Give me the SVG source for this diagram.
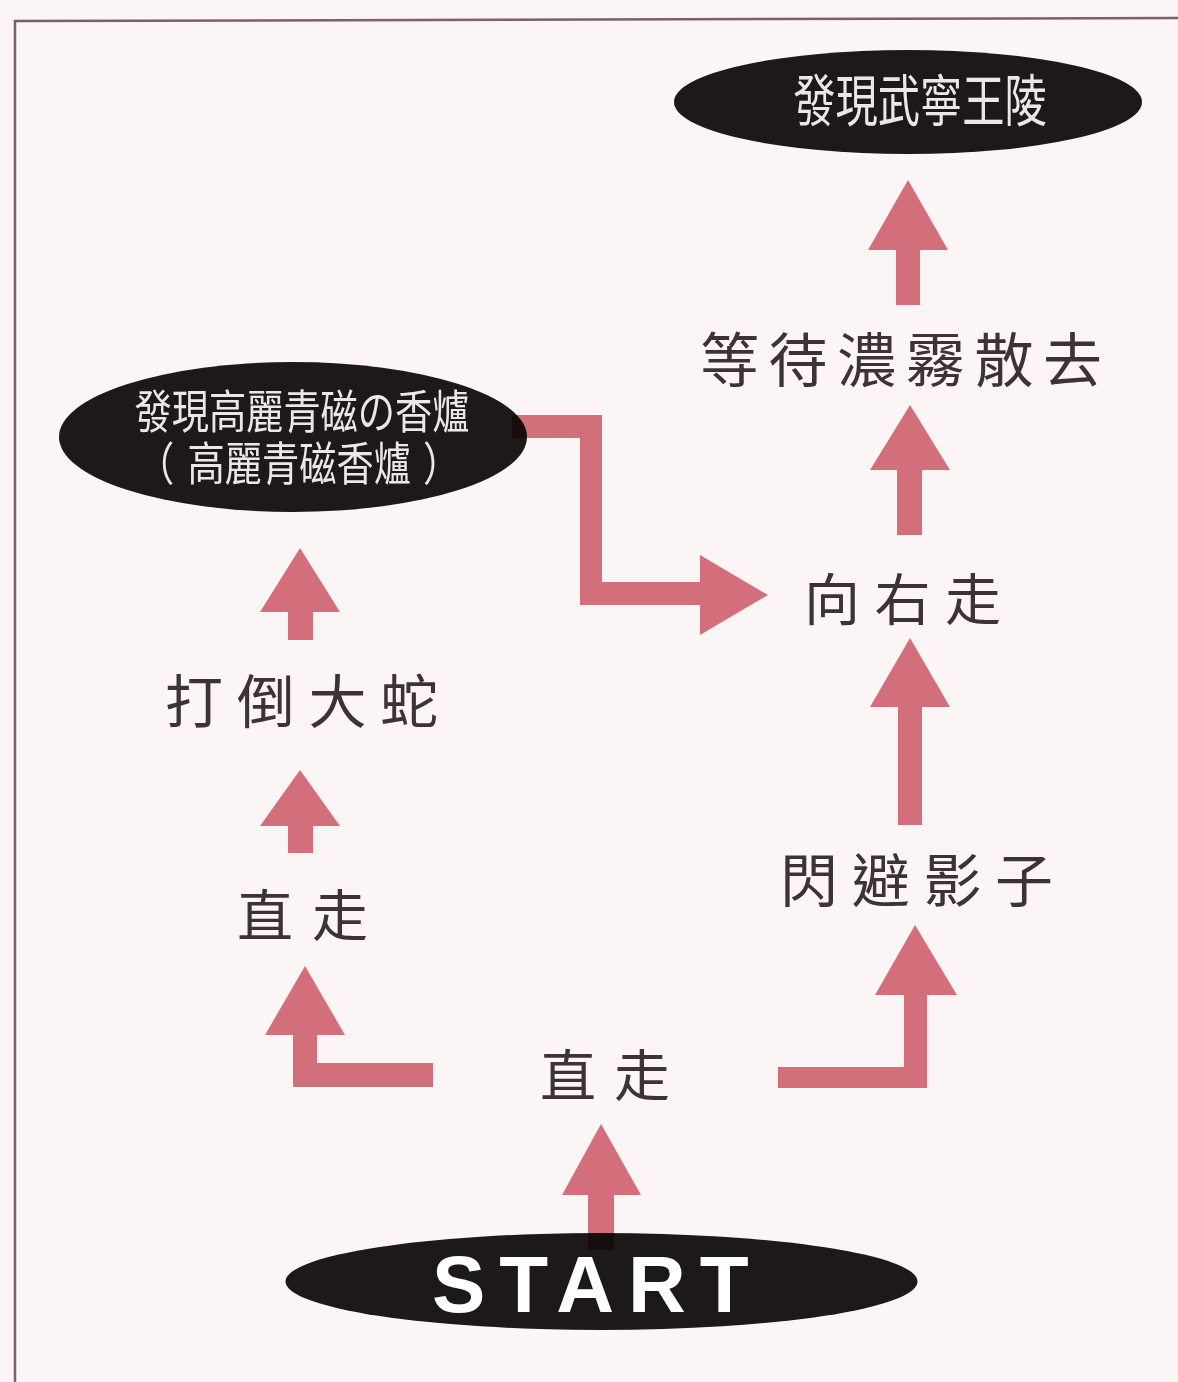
<svg xmlns="http://www.w3.org/2000/svg" width="1178" height="1382" viewBox="0 0 1178 1382">
  <style>
    .bg { fill: #fcf5f5; }
    .frame { fill: none; stroke: #7d5f66; stroke-width: 2.5; }
    .oval { fill: #1d1919; }
    .otext { font-family: "Noto Sans CJK TC", "Noto Sans CJK JP", sans-serif; fill: #ece6e6; }
    .label { font-family: "Noto Sans CJK TC", "Noto Sans CJK JP", sans-serif; fill: #3e3235; }
    .start { font-family: "Liberation Sans", Arial, sans-serif; font-weight: bold; fill: #ffffff; }
    .arrow { fill: #d6737f; mix-blend-mode: multiply; }
  </style>
  <rect class="bg" x="0" y="0" width="1178" height="1382"/>
  <path class="frame" d="M15,1382 L15,21 L1178,18"/>

  <g id="node-wuning">
    <ellipse class="oval" cx="908" cy="102" rx="234" ry="52"/>
    <g transform="translate(920,0) scale(0.755,1)">
      <text class="otext" x="0" y="121" font-size="56" text-anchor="middle">發現武寧王陵</text>
    </g>
  </g>

  <g id="node-incense">
    <ellipse class="oval" cx="293" cy="437" rx="234" ry="75"/>
    <g transform="translate(302,0) scale(0.81,1)">
      <text class="otext" font-size="46"><tspan x="0" y="428" text-anchor="middle">發現高麗青磁の香爐</tspan><tspan x="-203.7" y="480">（</tspan><tspan x="-141.4" y="480">高麗青磁香爐</tspan><tspan x="149.4" y="480">）</tspan></text>
    </g>
  </g>

  <g id="node-start">
    <ellipse class="oval" cx="601.5" cy="1281.5" rx="316" ry="48.5"/>
    <text class="start" x="432" y="1312" font-size="80" letter-spacing="14">START</text>
  </g>

  <g id="node-fog"><text class="label" x="700" y="382" font-size="59" letter-spacing="9.6">等待濃霧散去</text></g>
  <g id="node-right"><text class="label" x="804" y="620" font-size="56" letter-spacing="14.5">向右走</text></g>
  <g id="node-shadow"><text class="label" x="780" y="902" font-size="58" letter-spacing="13.7">閃避影子</text></g>
  <g id="node-snake"><text class="label" x="165" y="723" font-size="58" letter-spacing="13.7">打倒大蛇</text></g>
  <g id="node-straight-left"><text class="label" x="237" y="936" font-size="56" letter-spacing="19">直走</text></g>
  <g id="node-straight-center"><text class="label" x="540" y="1096" font-size="56" letter-spacing="18">直走</text></g>

  <g id="connectors">
    <polygon class="arrow" points="588,1250 588,1195 562,1195 601,1124 641,1195 614,1195 614,1250"/>
    <polygon class="arrow" points="433,1063 433,1087 293,1087 293,1035 265,1035 305,966 345,1035 317,1035 317,1063"/>
    <polygon class="arrow" points="778,1067 778,1088 927,1088 927,995 957,995 915,925 875,995 904,995 904,1067"/>
    <polygon class="arrow" points="288,853 288,826 260,826 300,770 340,826 313,826 313,853"/>
    <polygon class="arrow" points="288,640 288,612 260,612 300,548 340,612 313,612 313,640"/>
    <polygon class="arrow" points="898,825 898,707 870,707 910,638 950,707 922,707 922,825"/>
    <polygon class="arrow" points="897,535 897,470 870,470 910,405 950,470 922,470 922,535"/>
    <polygon class="arrow" points="896,305 896,250 868,250 908,180 948,250 920,250 920,305"/>
    <polygon class="arrow" points="512,415 602,415 602,582 700,582 700,555 768,595 700,635 700,605 580,605 580,438 512,438"/>
  </g>
</svg>
